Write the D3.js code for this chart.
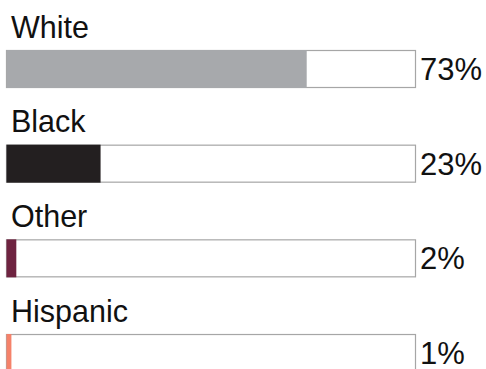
<!DOCTYPE html>
<html>
<head>
<meta charset="utf-8">
<script src="https://cdn.jsdelivr.net/npm/d3@7"></script>
<style>
html,body{margin:0;padding:0;background:#fff;}
svg{display:block;}
text{font-family:"Liberation Sans",Arial,sans-serif;fill:#111;}
</style>
</head>
<body>
<svg id="chart" width="486" height="369"></svg>
<script>
const categories = ["White", "Black", "Other", "Hispanic"];
const values = [73.4, 23.0, 2.4, 1.2];
const valueLabels = ["73%", "23%", "2%", "1%"];
const colors = ["#a7a9ac", "#231f20", "#6e2340", "#f5826a"];

const svg = d3.select("#chart");
const x = d3.scaleLinear().domain([0, 100]).range([6.5, 415.5]);
const y = d3.scaleBand().domain(categories).range([50, 50 + 94.67 * 4]).paddingInner(0).paddingOuter(0);
const barH = 38;

const g = svg.selectAll("g.row").data(categories).join("g").attr("class", "row")
  .attr("transform", d => `translate(0,${y(d)})`);

g.append("rect")
  .attr("x", x(0)).attr("y", 0.5)
  .attr("width", x(100) - x(0)).attr("height", barH - 1)
  .attr("fill", "#fff").attr("stroke", "#a6a6a6").attr("stroke-width", 1.2);

g.append("rect")
  .attr("x", x(0)).attr("y", 0)
  .attr("width", (d, i) => x(values[i]) - x(0)).attr("height", barH)
  .attr("fill", (d, i) => colors[i]);

g.append("text")
  .attr("x", 11).attr("y", -12.5)
  .attr("font-size", 30.5)
  .text(d => d);

g.append("text")
  .attr("x", 420).attr("y", 30)
  .attr("font-size", 31)
  .text((d, i) => valueLabels[i]);
</script>
</body>
</html>
